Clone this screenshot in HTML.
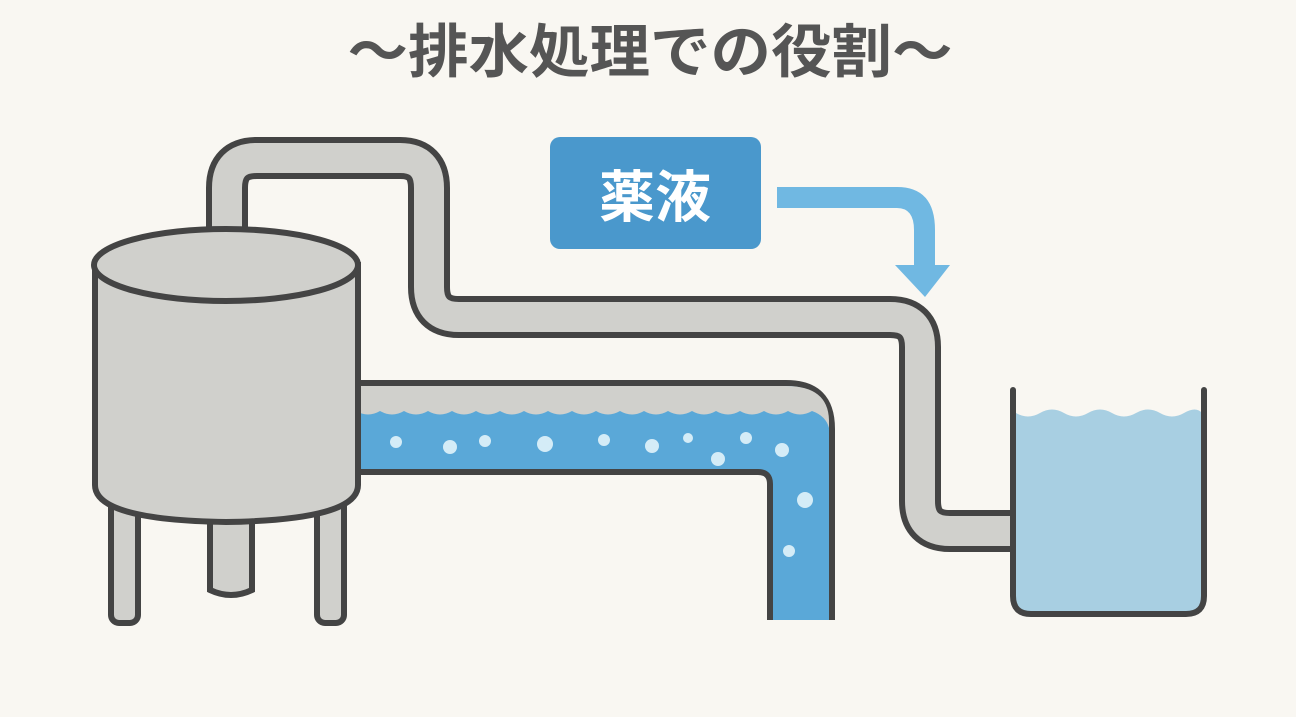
<!DOCTYPE html>
<html><head><meta charset="utf-8"><style>
html,body{margin:0;padding:0;background:#f9f7f2;}
svg{display:block}
</style></head><body>
<svg width="1296" height="717" viewBox="0 0 1296 717" xmlns="http://www.w3.org/2000/svg">
<rect width="1296" height="717" fill="#f9f7f2"/>
<text x="650" y="72" text-anchor="middle" font-family="Liberation Sans, Noto Sans CJK JP, sans-serif" font-weight="bold" font-size="58" fill="#555" textLength="605" lengthAdjust="spacingAndGlyphs">〜排水処理での役割〜</text>

<path d="M227 235 V188 Q227 158 257 158 H400 Q429 158 429 188 V287 Q429 317 459 317 H890 Q920 317 920 347 V501 Q920 531 950 531 H1014" fill="none" stroke="#444" stroke-width="42"/>
<path d="M227 240 V188 Q227 158 257 158 H400 Q429 158 429 188 V287 Q429 317 459 317 H890 Q920 317 920 347 V501 Q920 531 950 531 H1014" fill="none" stroke="#d0d0cc" stroke-width="30"/>

<path d="M350 383 H786 Q832 383 832 429 V620 H770 V484 Q770 472 758 472 H350 Z" fill="#5aa8d8"/>
<path d="M350 383 H786 Q832 383 832 429 V620 M770 620 V484 Q770 472 758 472 H350" fill="none" stroke="#444" stroke-width="6"/>
<path d="M353 386 H786 Q828 386 829 420 L829 428 Q826 416 812 411 Q800 418 788 411 Q776 418 764 411 Q752 418 740 411 Q728 418 716 411 Q704 418 692 411 Q680 418 668 411 Q656 418 644 411 Q632 418 620 411 Q608 418 596 411 Q584 418 572 411 Q560 418 548 411 Q536 418 524 411 Q512 418 500 411 Q488 418 476 411 Q464 418 452 411 Q440 418 428 411 Q416 418 404 411 Q392 418 380 411 Q368 418 356 411 L353 411 Z" fill="#d0d0cc"/>
<g fill="#d4ecf7">
<circle cx="396" cy="442" r="6"/><circle cx="450" cy="447" r="7"/><circle cx="485" cy="441" r="6"/><circle cx="545" cy="444" r="8"/><circle cx="604" cy="440" r="6"/><circle cx="652" cy="446" r="7"/><circle cx="688" cy="438" r="5"/><circle cx="718" cy="459" r="7"/><circle cx="746" cy="438" r="6"/><circle cx="782" cy="450" r="7"/><circle cx="805" cy="500" r="8"/><circle cx="789" cy="551" r="6"/>
</g>

<g fill="#d0d0cc" stroke="#444" stroke-width="6">
<rect x="111" y="490" width="27" height="133" rx="8"/>
<rect x="317" y="490" width="27" height="133" rx="8"/>
<path d="M210 500 V590 Q231 600 252 590 V500 Z"/>
</g>
<path d="M95 265 V485 Q95 520 226 522 Q358 520 358 485 V265 Z" fill="#d0d0cc" stroke="#444" stroke-width="6"/>
<ellipse cx="226" cy="265" rx="132" ry="36" fill="#d0d0cc" stroke="#444" stroke-width="6"/>

<rect x="550" y="137" width="211" height="112" rx="10" fill="#4a98cc"/>
<text x="655" y="217" text-anchor="middle" font-family="Liberation Sans, Noto Sans CJK JP, sans-serif" font-weight="bold" font-size="56" fill="#fff">薬液</text>
<path d="M777 187 H897 Q935 187 935 230 V265 H950 L925 297 L895 265 H914 V230 Q914 208 897 208 H777 Z" fill="#70b8e2"/>

<path d="M1016 413 Q1028 420 1040 413 Q1052 406 1064 413 Q1076 420 1088 413 Q1100 406 1112 413 Q1124 420 1136 413 Q1148 406 1160 413 Q1172 420 1184 413 Q1196 406 1202 413 V596 Q1202 612 1186 612 H1031 Q1015 612 1015 596 Z" fill="#a8cfe2"/>
<path d="M1013 390 V596 Q1013 614 1031 614 H1186 Q1204 614 1204 596 V390" fill="none" stroke="#444" stroke-width="6" stroke-linecap="round"/>
</svg>
</body></html>
